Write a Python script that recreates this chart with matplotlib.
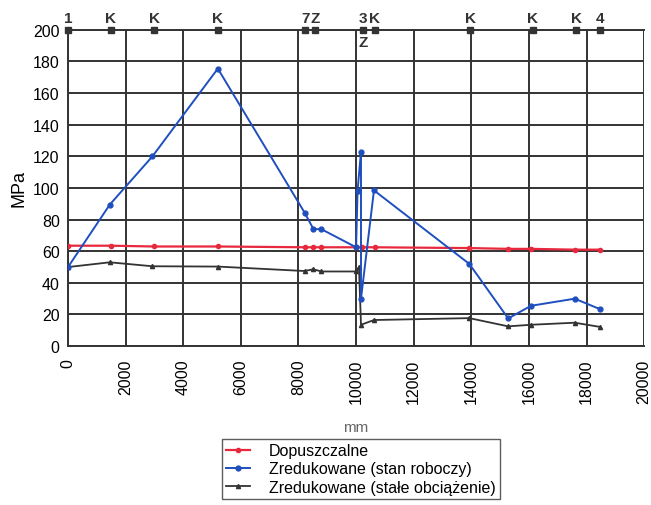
import matplotlib.pyplot as plt
import numpy as np

plt.rcParams['font.family'] = ['Liberation Sans', 'DejaVu Sans']

# Data
x_dop = [0, 1480, 3000, 5200, 8240, 8520, 8790, 10000, 10200, 10650, 13930, 15280, 16070, 17590, 18450]
dopuszczalne = [63.5, 63.5, 63, 63, 62.5, 62.5, 62.5, 62.5, 62.5, 62.5, 62, 61.5, 61.5, 61, 61]

x_rob = [0, 1450, 2930, 5200, 8210, 8520, 8790, 10000, 10050, 10170, 10170, 10620, 13930, 15280, 16070, 17590, 18450]
roboczy = [50, 89.5, 120, 175.5, 84.5, 74, 74, 62.5, 98, 123, 30, 98.5, 52, 17.5, 25.5, 30, 23.5]

x_stale = [0, 1450, 2930, 5200, 8210, 8520, 8790, 10000, 10100, 10170, 10620, 13930, 15280, 16070, 17590, 18450]
stale = [50, 53, 50.5, 50.3, 47.5, 48.6, 47.2, 47.2, 50, 13.5, 16.5, 17.7, 12.5, 13.5, 14.8, 12.2]

# node labels along the top edge
top_x = [0, 1480, 3000, 5200, 8240, 8590, 10240, 10650, 13970, 16140, 17650, 18480]
top_labels = ['1', 'K', 'K', 'K', '7', 'Z', '3', 'K', 'K', 'K', 'K', '4']

fig = plt.figure(figsize=(6.51, 5.06), dpi=100)
ax = fig.add_axes([0.1045, 0.314, 0.885, 0.625])

ax.plot(x_dop, dopuszczalne, color='#e8283c', lw=1.6, marker='o', ms=3,
        label='Dopuszczalne', zorder=4)
ax.plot(x_rob, roboczy, color='#1f4fbf', lw=1.4, marker='o', ms=3.5,
        label='Zredukowane (stan roboczy)', zorder=5)
ax.plot(x_stale, stale, color='#333333', lw=1.3, marker='^', ms=3,
        label='Zredukowane (stałe obciążenie)', zorder=4)

# top nodes
ax.plot(top_x, [200] * len(top_x), color='#333333', lw=1.5, ls='none',
        marker='s', ms=4, clip_on=False, zorder=6)
for xv, lab in zip(top_x, top_labels):
    ax.text(xv, 203, lab, ha='center', va='bottom', fontsize=11,
            fontweight='bold', color='#333333')
ax.text(10240, 197, 'Z', ha='center', va='top', fontsize=11,
        fontweight='bold', color='#333333')

ax.set_xlim(0, 20000)
ax.set_ylim(0, 200)
ax.set_xticks(np.arange(0, 20001, 2000))
ax.set_yticks(np.arange(0, 201, 20))
ax.tick_params(axis='x', labelrotation=90, labelsize=11.5, length=0, pad=9)
ax.tick_params(axis='y', labelsize=11.5, length=0, pad=6)
ax.grid(True, color='#333333', lw=1.4)
for s in ax.spines.values():
    s.set_color('#333333')
    s.set_linewidth(1.4)
ax.spines['right'].set_visible(False)

ax.set_xlabel('mm', fontsize=11, color='#666666', labelpad=12)
ax.set_ylabel('MPa', fontsize=13, labelpad=4)

fig.legend(loc='upper left', bbox_to_anchor=(0.341, 0.13), fontsize=11.5,
           frameon=True, fancybox=False, edgecolor='#333333',
           handlelength=1.5, borderpad=0.25, labelspacing=0.2,
           borderaxespad=0, handletextpad=1.2)

plt.savefig('out.png', dpi=100)
plt.close()
